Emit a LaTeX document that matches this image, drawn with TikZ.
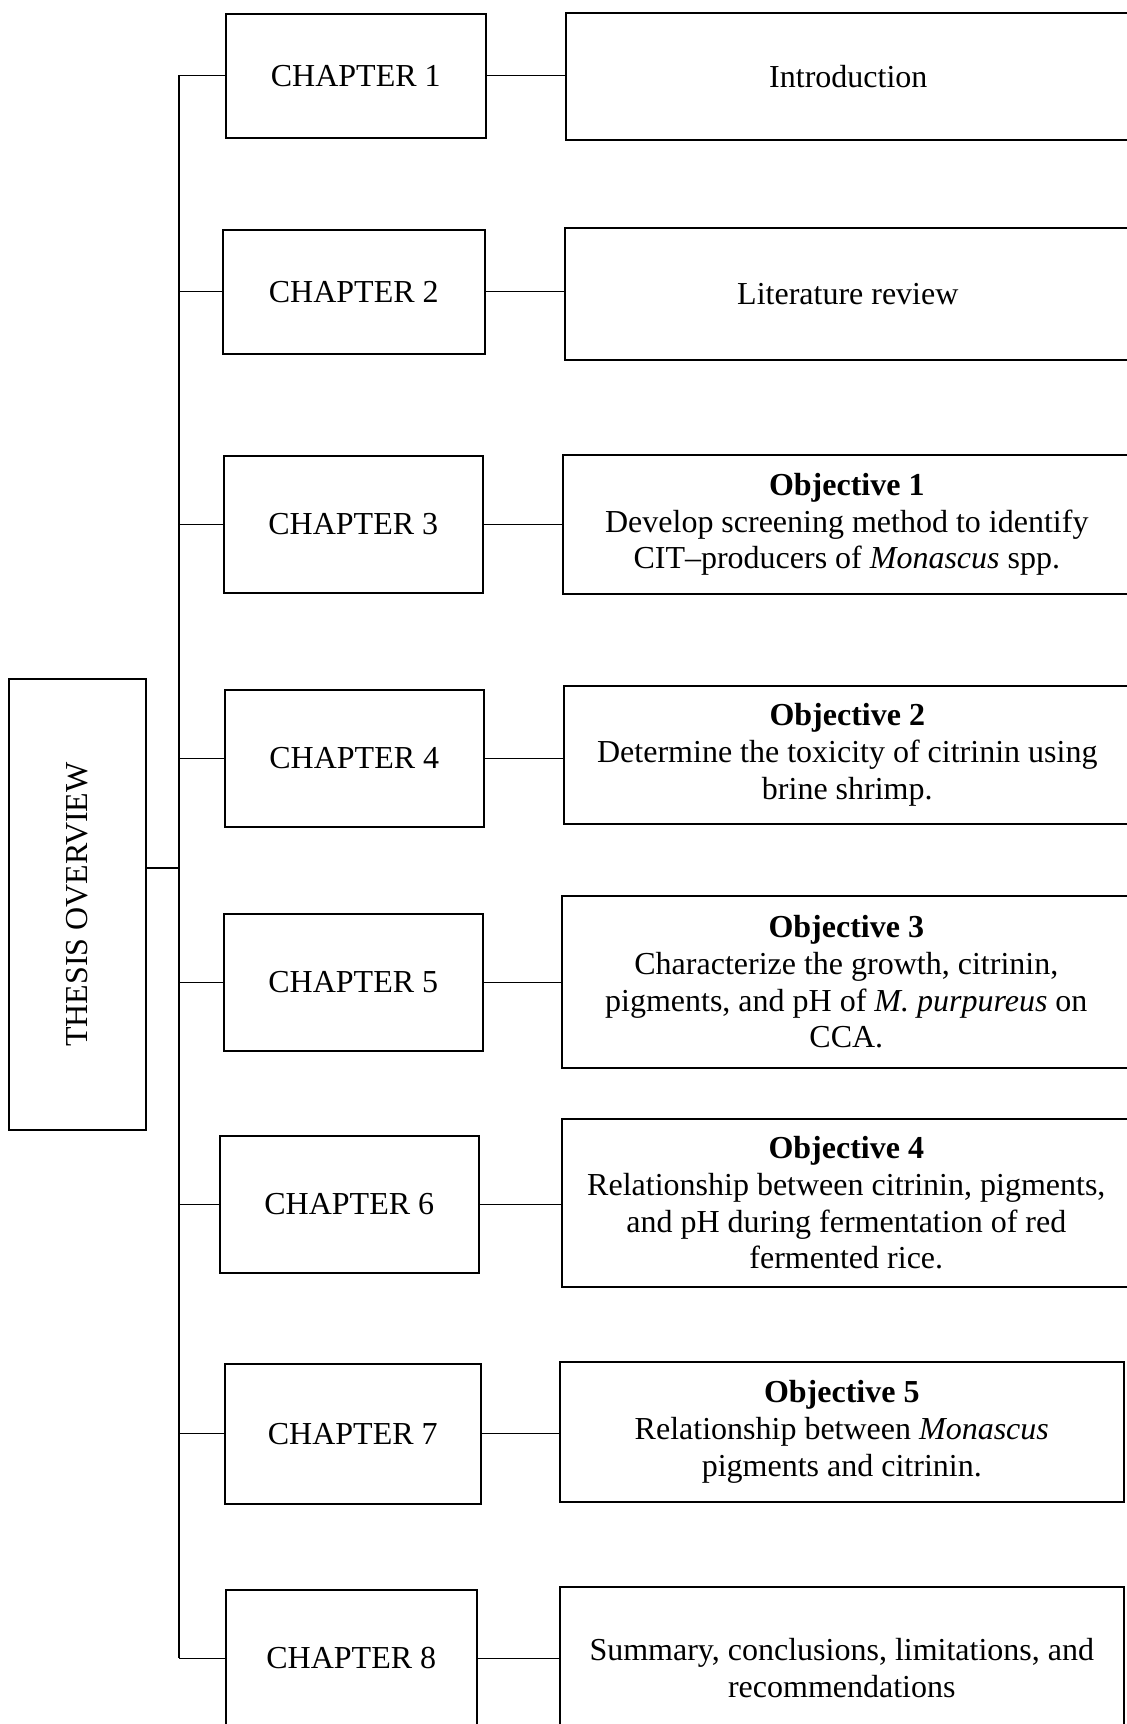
\documentclass[tikz,border=0pt]{standalone}
\usepackage{fontspec}
\setmainfont{Liberation Serif}

\begin{document}
\begin{tikzpicture}[
  x=0.5pt,y=-0.5pt,
  every node/.style={draw,line width=0.8pt,align=center,inner sep=2pt,
    font=\fontsize{16}{18.4}\selectfont},
  chap/.style={anchor=north west,minimum width=129.5pt},
  goal/.style={anchor=north west},
  link/.style={line width=0.6pt}]
\useasboundingbox (0,0) rectangle (1126,1724);

% root, turned to read upwards
\node[rotate=90,minimum width=225.5pt,minimum height=68.5pt] (thesis) at (77.5,904.5) {THESIS OVERVIEW};

% chapters
\node[chap,minimum width=130pt,minimum height=62pt] (c1) at (225,13) {CHAPTER 1};
\node[chap,minimum width=131pt,minimum height=62pt] (c2) at (222,229) {CHAPTER 2};
\node[chap,minimum height=68.5pt] (c3) at (223,455) {CHAPTER 3};
\node[chap,minimum height=68.5pt] (c4) at (224,689) {CHAPTER 4};
\node[chap,minimum height=68.5pt] (c5) at (223,913) {CHAPTER 5};
\node[chap,minimum height=68.5pt] (c6) at (219,1135) {CHAPTER 6};
\node[chap,minimum width=128pt,minimum height=70pt] (c7) at (224,1363) {CHAPTER 7};
\node[chap,minimum width=125.5pt,minimum height=68.5pt] (c8) at (225,1589) {CHAPTER 8};

% what each chapter covers
\node[goal,minimum width=282.5pt,minimum height=63.5pt] (r1) at (565,12) {Introduction};
\node[goal,minimum width=283pt,minimum height=66pt] (r2) at (564,227) {Literature review};
\node[goal,minimum width=284pt,minimum height=69.5pt] (r3) at (562,454)
  {\textbf{Objective 1}\\Develop screening method to identify\\CIT--producers of \textit{Monascus} spp.};
\node[goal,minimum width=283.5pt,minimum height=69pt] (r4) at (563,685)
  {\textbf{Objective 2}\\Determine the toxicity of citrinin using\\brine shrimp.};
\node[goal,minimum width=284.5pt,minimum height=86pt] (r5) at (561,895)
  {\textbf{Objective 3}\\Characterize the growth, citrinin,\\pigments, and pH of \textit{M. purpureus} on\\CCA.};
\node[goal,minimum width=284.5pt,minimum height=84pt] (r6) at (561,1118)
  {\textbf{Objective 4}\\Relationship between citrinin, pigments,\\and pH during fermentation of red\\fermented rice.};
\node[goal,minimum width=282pt,minimum height=70pt] (r7) at (559,1361)
  {\textbf{Objective 5}\\Relationship between \textit{Monascus}\\pigments and citrinin.};
\node[goal,minimum width=282pt,minimum height=81pt] (r8) at (559,1586)
  {Summary, conclusions, limitations, and\\recommendations};

% trunk
\coordinate (top) at (179,75);
\coordinate (bot) at (179,1657.5);
\coordinate (join) at (179,868);
\draw[link] (top) -- (bot);
\draw[link] (thesis.south |- join) -- (join);

\draw[link] (c1.west) -- (c1.west -| top);
\draw[link] (c2.west) -- (c2.west -| top);
\draw[link] (c3.west) -- (c3.west -| top);
\draw[link] (c4.west) -- (c4.west -| top);
\draw[link] (c5.west) -- (c5.west -| top);
\draw[link] (c6.west) -- (c6.west -| top);
\draw[link] (c7.west) -- (c7.west -| top);
\draw[link] (c8.west) -- (c8.west -| top);

\draw[link] (c1.east) -- (c1.east -| r1.west);
\draw[link] (c2.east) -- (c2.east -| r2.west);
\draw[link] (c3.east) -- (c3.east -| r3.west);
\draw[link] (c4.east) -- (c4.east -| r4.west);
\draw[link] (c5.east) -- (c5.east -| r5.west);
\draw[link] (c6.east) -- (c6.east -| r6.west);
\draw[link] (c7.east) -- (c7.east -| r7.west);
\draw[link] (c8.east) -- (c8.east -| r8.west);
\end{tikzpicture}
\end{document}
